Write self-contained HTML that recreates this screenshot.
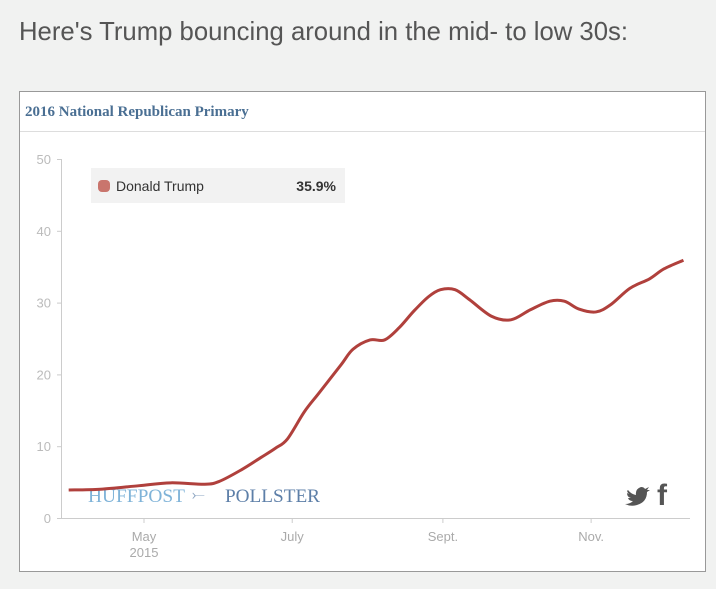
<!DOCTYPE html>
<html><head><meta charset="utf-8">
<style>
html,body{margin:0;padding:0;background:#f1f2f1;width:716px;height:589px;overflow:hidden;}
svg{display:block;font-family:"Liberation Sans",sans-serif;}
</style></head>
<body>
<svg width="716" height="589" viewBox="0 0 716 589">
  <text x="19" y="40" font-size="26" fill="#555" textLength="609" lengthAdjust="spacingAndGlyphs">Here's Trump bouncing around in the mid- to low 30s:</text>
  <rect x="19.5" y="91.5" width="686" height="480" fill="#fff" stroke="#999"/>
  <text x="25" y="116" font-family="Liberation Serif,serif" font-weight="bold" font-size="15" fill="#4a6f93">2016 National Republican Primary</text>
  <line x1="20" y1="131.5" x2="705" y2="131.5" stroke="#ddd"/>
  <g id="yaxis"></g>
  <g id="xaxis"></g>
  <text x="88" y="502" font-family="Liberation Serif,serif" font-size="19" fill="#7fb3d8" textLength="97" lengthAdjust="spacingAndGlyphs">HUFFPOST</text>
  <text x="192" y="500" font-size="16" fill="#8aa3c0">⤚</text>
  <text x="225" y="502" font-family="Liberation Serif,serif" font-size="19" fill="#5d7fa8" textLength="95" lengthAdjust="spacingAndGlyphs">POLLSTER</text>
  <path id="line" fill="none" stroke="#b0403c" stroke-width="3" stroke-linejoin="round"/>
  <rect x="91" y="168" width="254" height="35" fill="#f2f2f2"/>
  <rect x="98" y="180" width="12" height="12" rx="4" fill="#c9756d"/>
  <text x="116" y="191" font-size="14" fill="#333">Donald Trump</text>
  <text id="lastval" x="336" y="191" font-size="14" font-weight="bold" fill="#333" text-anchor="end"></text>
  <g><path d="M628 490 q3 4 8 5 q-1-6 5-8 q3 0 4 2 l4-2 l-2 3 l3 0 l-3 2 q0 10-10 13 q-6 2-12-1 q5 0 8-3 q-4 0-5-3 l3 0 q-4-1-4-5 l2 1 q-3-3-1-4z" fill="#555"/></g>
  <text x="657" y="505" font-size="30" font-weight="bold" fill="#555">f</text>
</svg>
<script>
const dayOffsets=[-31,-18,-2,11,25,31,40,48,54,59,66,72,81,86,93,99,105,111,117,122,128,134,143,151,159,167,173,179,186,192,200,208,214,222];
const trumpValues=[3.9,4.0,4.5,4.9,4.7,5.1,6.7,8.4,9.7,11.0,14.8,17.4,21.3,23.5,24.8,24.8,26.5,28.8,30.8,31.8,31.8,30.4,28.1,27.6,29.0,30.2,30.2,29.1,28.7,29.7,32.0,33.3,34.7,35.9];
const yTicks=[0,10,20,30,40,50];
const xTickDays=[0,61,123,184];
const xTickLabels=["May","July","Sept.","Nov."];
const NS="http://www.w3.org/2000/svg";
const xS=d=>144+d*2.43;
const yS=v=>518-v*7.18;
const ya=document.getElementById('yaxis'),xa=document.getElementById('xaxis');
function mk(tag,attrs,parent,txt){const e=document.createElementNS(NS,tag);for(const k in attrs)e.setAttribute(k,attrs[k]);if(txt!==undefined)e.textContent=txt;parent.appendChild(e);return e;}
let al=mk('line',{x1:61.5,y1:yS(50),x2:61.5,y2:518,stroke:'#ccc'},ya);


yTicks.forEach(v=>{
  let t=mk('line',{x1:57,x2:61.5,y1:yS(v)+.5,y2:yS(v)+.5,stroke:'#ccc'},ya);
  
  
  let l=mk('text',{x:51,y:yS(v)+5,'font-size':13,fill:'#bbb','text-anchor':'end'},ya,String(v));
  
  
});
let xl=mk('line',{x1:61,x2:690,y1:518.5,y2:518.5,stroke:'#ccc'},xa);


xTickDays.forEach((d,i)=>{
  let t=mk('line',{x1:xS(d),x2:xS(d),y1:519,y2:523,stroke:'#ccc'},xa);
  
  
  let l=mk('text',{x:xS(d),y:541,'font-size':13,fill:'#aaa','text-anchor':'middle'},xa,xTickLabels[i]);
  
  
});
let yr=mk('text',{x:xS(0),y:557,'font-size':13,fill:'#aaa','text-anchor':'middle'},xa,'2015');


const pts=dayOffsets.map((d,i)=>[xS(d),yS(trumpValues[i])]);
let p='M'+pts[0][0]+','+pts[0][1];
for(let i=0;i<pts.length-1;i++){
  const p0=pts[Math.max(0,i-1)],p1=pts[i],p2=pts[i+1],p3=pts[Math.min(pts.length-1,i+2)];
  const c1=[p1[0]+(p2[0]-p0[0])/6,p1[1]+(p2[1]-p0[1])/6],c2=[p2[0]-(p3[0]-p1[0])/6,p2[1]-(p3[1]-p1[1])/6];
  p+=` C${c1[0]},${c1[1]} ${c2[0]},${c2[1]} ${p2[0]},${p2[1]}`;
}
document.getElementById('line').setAttribute('d',p);
document.getElementById('lastval').textContent=trumpValues[trumpValues.length-1].toFixed(1)+'%';
</script>
</body></html>
